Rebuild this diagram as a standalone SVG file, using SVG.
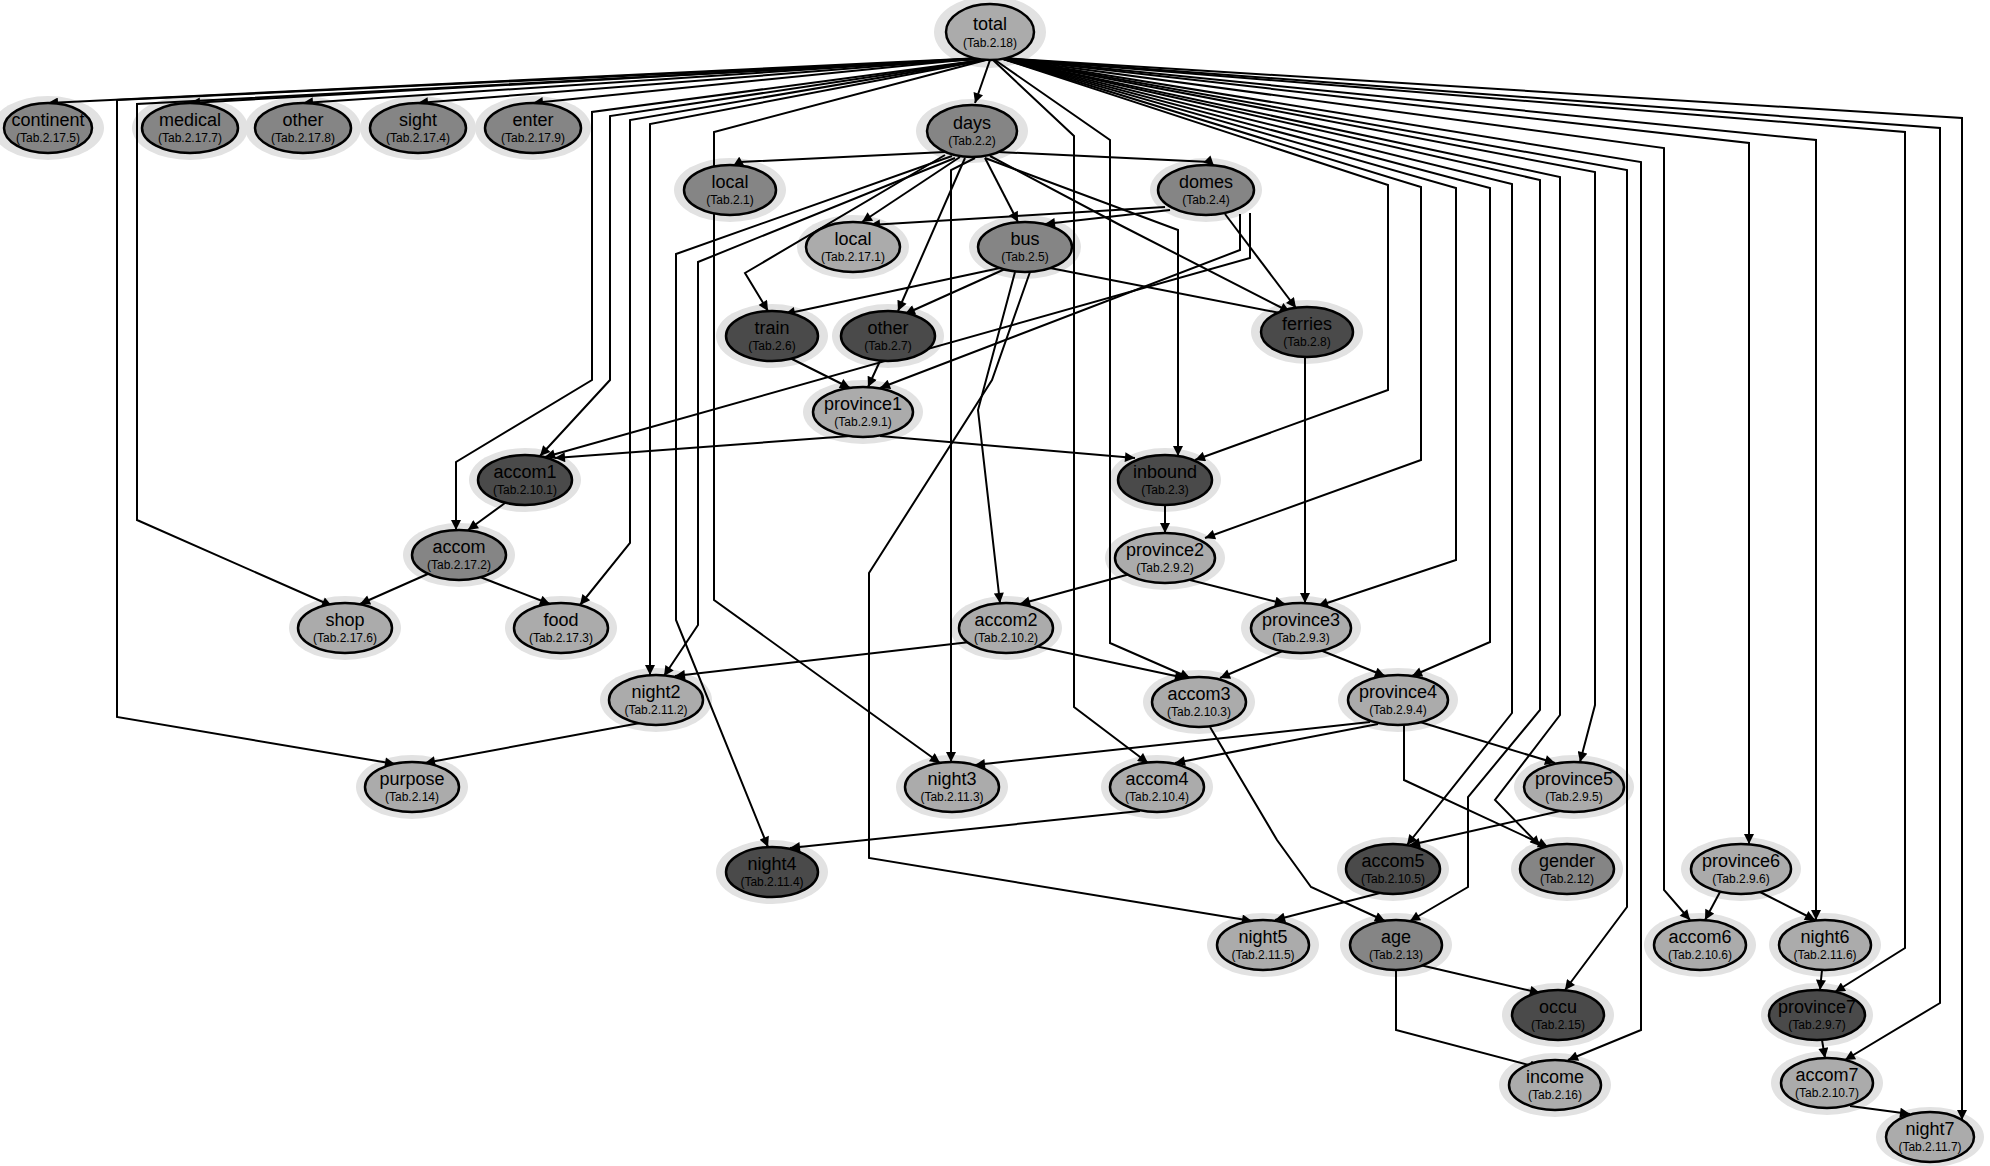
<svg xmlns="http://www.w3.org/2000/svg" width="1990" height="1166" viewBox="0 0 1990 1166">
<defs>
<marker id="ah" viewBox="0 0 10 10" refX="10" refY="5" markerWidth="12" markerHeight="10" orient="auto" markerUnits="userSpaceOnUse"><path d="M0,0 L10,5 L0,10 z" fill="#000"/></marker>
<style>
.e{fill:none;stroke:#000;stroke-width:2;marker-end:url(#ah)}
.halo{fill:#e2e2e2}
.n ellipse{stroke:#000;stroke-width:2.5}
.lt ellipse{fill:#ababab}
.md ellipse{fill:#858585}
.dk ellipse{fill:#4a4a4a}
.t1{font-family:"Liberation Sans",Arial,sans-serif;font-size:18px;text-anchor:middle;fill:#000}
.t2{font-family:"Liberation Sans",Arial,sans-serif;font-size:12px;text-anchor:middle;fill:#000}
</style>
</defs>
<rect width="1990" height="1166" fill="#fff"/>
<g id="halos">
<ellipse class="halo" cx="990" cy="32" rx="56" ry="36"/>
<ellipse class="halo" cx="48" cy="128" rx="56" ry="32"/>
<ellipse class="halo" cx="190" cy="128" rx="58" ry="32"/>
<ellipse class="halo" cx="303" cy="128" rx="58" ry="32"/>
<ellipse class="halo" cx="418" cy="128" rx="58" ry="32"/>
<ellipse class="halo" cx="533" cy="128" rx="58" ry="32"/>
<ellipse class="halo" cx="972" cy="131" rx="56" ry="32"/>
<ellipse class="halo" cx="730" cy="190" rx="56" ry="32"/>
<ellipse class="halo" cx="1206" cy="190" rx="56" ry="32"/>
<ellipse class="halo" cx="853" cy="247" rx="56" ry="32"/>
<ellipse class="halo" cx="1025" cy="247" rx="56" ry="32"/>
<ellipse class="halo" cx="772" cy="336" rx="56" ry="32"/>
<ellipse class="halo" cx="888" cy="336" rx="56" ry="32"/>
<ellipse class="halo" cx="1307" cy="332" rx="56" ry="32"/>
<ellipse class="halo" cx="863" cy="412" rx="60" ry="32"/>
<ellipse class="halo" cx="525" cy="480" rx="56" ry="32"/>
<ellipse class="halo" cx="1165" cy="480" rx="56" ry="32"/>
<ellipse class="halo" cx="459" cy="555" rx="56" ry="32"/>
<ellipse class="halo" cx="1165" cy="558" rx="60" ry="32"/>
<ellipse class="halo" cx="345" cy="628" rx="56" ry="32"/>
<ellipse class="halo" cx="561" cy="628" rx="56" ry="32"/>
<ellipse class="halo" cx="1006" cy="628" rx="56" ry="32"/>
<ellipse class="halo" cx="1301" cy="628" rx="60" ry="32"/>
<ellipse class="halo" cx="656" cy="700" rx="56" ry="32"/>
<ellipse class="halo" cx="1199" cy="702" rx="56" ry="32"/>
<ellipse class="halo" cx="1398" cy="700" rx="60" ry="32"/>
<ellipse class="halo" cx="412" cy="787" rx="56" ry="32"/>
<ellipse class="halo" cx="952" cy="787" rx="56" ry="32"/>
<ellipse class="halo" cx="1157" cy="787" rx="56" ry="32"/>
<ellipse class="halo" cx="1574" cy="787" rx="60" ry="32"/>
<ellipse class="halo" cx="772" cy="872" rx="56" ry="32"/>
<ellipse class="halo" cx="1393" cy="869" rx="56" ry="32"/>
<ellipse class="halo" cx="1567" cy="869" rx="56" ry="32"/>
<ellipse class="halo" cx="1741" cy="869" rx="60" ry="32"/>
<ellipse class="halo" cx="1263" cy="945" rx="56" ry="32"/>
<ellipse class="halo" cx="1396" cy="945" rx="56" ry="32"/>
<ellipse class="halo" cx="1700" cy="945" rx="56" ry="32"/>
<ellipse class="halo" cx="1825" cy="945" rx="56" ry="32"/>
<ellipse class="halo" cx="1558" cy="1015" rx="56" ry="32"/>
<ellipse class="halo" cx="1817" cy="1015" rx="56" ry="32"/>
<ellipse class="halo" cx="1555" cy="1085" rx="56" ry="32"/>
<ellipse class="halo" cx="1827" cy="1083" rx="56" ry="32"/>
<ellipse class="halo" cx="1930" cy="1137" rx="54" ry="30"/>
</g>
<g id="connectors">
<path class="e" d="M982,58 L48,103"/>
<path class="e" d="M982,58 L190,103"/>
<path class="e" d="M982,58 L303,103"/>
<path class="e" d="M982,58 L418,103"/>
<path class="e" d="M982,58 L533,103"/>
<path class="e" d="M982,59 L117,100 L117,717 L395,764"/>
<path class="e" d="M982,59 L137,104 L137,520 L332,606"/>
<path class="e" d="M983,60 L592,112 L592,380 L456,462 L456,530"/>
<path class="e" d="M983,60 L610,116 L610,380 L540,456"/>
<path class="e" d="M984,60 L630,120 L630,543 L580,605"/>
<path class="e" d="M985,60 L650,124 L650,675"/>
<path class="e" d="M986,60 L714,132 L714,600 L940,763"/>
<path class="e" d="M990,60 L975,103"/>
<path class="e" d="M945,152 L740,162 L733,166"/>
<path class="e" d="M998,152 L1210,162 L1214,166"/>
<path class="e" d="M960,157 L862,222"/>
<path class="e" d="M985,158 L1018,222"/>
<path class="e" d="M945,155 L745,273 L768,311"/>
<path class="e" d="M965,158 L898,311"/>
<path class="e" d="M990,156 L1120,225 L1290,312"/>
<path class="e" d="M985,158 L1178,230 L1178,456"/>
<path class="e" d="M955,158 L698,262 L698,625 L664,676"/>
<path class="e" d="M952,156 L676,254 L676,620 L768,847"/>
<path class="e" d="M975,158 L951,170 L951,762"/>
<path class="e" d="M1000,268 L785,314"/>
<path class="e" d="M1005,269 L905,314"/>
<path class="e" d="M1050,268 L1290,315"/>
<path class="e" d="M1015,272 L978,410 L1000,603"/>
<path class="e" d="M1030,272 L992,380 L869,573 L869,858 L1252,921"/>
<path class="e" d="M1165,207 L870,225"/>
<path class="e" d="M1170,210 L1045,224"/>
<path class="e" d="M1225,214 L1296,308"/>
<path class="e" d="M1240,214 L1240,250 L880,388"/>
<path class="e" d="M1250,213 L1250,258 L545,457"/>
<path class="e" d="M790,358 L850,388"/>
<path class="e" d="M880,361 L868,387"/>
<path class="e" d="M850,436 L555,458"/>
<path class="e" d="M880,436 L1135,458"/>
<path class="e" d="M1165,505 L1165,533"/>
<path class="e" d="M1000,58 L1388,185 L1388,390 L1195,460"/>
<path class="e" d="M1000,58 L1421,187 L1421,460 L1205,538"/>
<path class="e" d="M505,503 L468,530"/>
<path class="e" d="M430,573 L360,604"/>
<path class="e" d="M480,577 L550,604"/>
<path class="e" d="M1130,574 L1020,604"/>
<path class="e" d="M1190,580 L1285,604"/>
<path class="e" d="M1305,357 L1305,603"/>
<path class="e" d="M1000,58 L1456,188 L1456,560 L1318,606"/>
<path class="e" d="M1035,646 L1185,678"/>
<path class="e" d="M970,642 L675,676"/>
<path class="e" d="M1285,650 L1220,678"/>
<path class="e" d="M1320,650 L1385,676"/>
<path class="e" d="M995,60 L1110,140 L1110,643 L1190,678"/>
<path class="e" d="M993,60 L1074,136 L1074,707 L1148,763"/>
<path class="e" d="M1000,58 L1490,188 L1490,642 L1412,676"/>
<path class="e" d="M1370,722 L975,765"/>
<path class="e" d="M1378,724 L1175,763"/>
<path class="e" d="M1420,722 L1555,763"/>
<path class="e" d="M1404,725 L1404,780 L1548,847"/>
<path class="e" d="M1000,58 L1512,184 L1512,713 L1407,845"/>
<path class="e" d="M1000,58 L1540,180 L1540,710 L1468,797 L1468,887 L1410,921"/>
<path class="e" d="M1000,58 L1560,177 L1560,715 L1495,800 L1540,846"/>
<path class="e" d="M1000,58 L1595,172 L1595,705 L1580,762"/>
<path class="e" d="M1210,727 L1277,840 L1311,887 L1385,921"/>
<path class="e" d="M1140,811 L790,848"/>
<path class="e" d="M1560,811 L1410,845"/>
<path class="e" d="M1380,893 L1275,920"/>
<path class="e" d="M640,723 L425,763"/>
<path class="e" d="M1000,58 L1627,170 L1627,907 L1565,990"/>
<path class="e" d="M1000,58 L1641,162 L1641,1030 L1568,1060"/>
<path class="e" d="M1000,58 L1664,148 L1664,890 L1690,920"/>
<path class="e" d="M1000,58 L1749,143 L1749,844"/>
<path class="e" d="M1000,58 L1816,140 L1816,920"/>
<path class="e" d="M1000,58 L1905,132 L1905,948 L1835,992"/>
<path class="e" d="M1000,58 L1940,128 L1940,1003 L1845,1060"/>
<path class="e" d="M1000,58 L1962,118 L1962,1120"/>
<path class="e" d="M1720,892 L1705,920"/>
<path class="e" d="M1760,892 L1815,920"/>
<path class="e" d="M1822,970 L1820,990"/>
<path class="e" d="M1822,1040 L1825,1058"/>
<path class="e" d="M1850,1106 L1910,1114"/>
<path class="e" d="M1420,965 L1540,993"/>
<path class="e" d="M1396,970 L1396,1030 L1540,1068"/>
</g>
<g id="nodes">
<g id="n-total" class="n lt"><ellipse cx="990" cy="32" rx="44" ry="28"/><text class="t1" x="990" y="30">total</text><text class="t2" x="990" y="47">(Tab.2.18)</text></g>
<g id="n-continent" class="n md"><ellipse cx="48" cy="128" rx="44" ry="25"/><text class="t1" x="48" y="126">continent</text><text class="t2" x="48" y="142">(Tab.2.17.5)</text></g>
<g id="n-medical" class="n md"><ellipse cx="190" cy="128" rx="48" ry="25"/><text class="t1" x="190" y="126">medical</text><text class="t2" x="190" y="142">(Tab.2.17.7)</text></g>
<g id="n-other" class="n md"><ellipse cx="303" cy="128" rx="48" ry="25"/><text class="t1" x="303" y="126">other</text><text class="t2" x="303" y="142">(Tab.2.17.8)</text></g>
<g id="n-sight" class="n md"><ellipse cx="418" cy="128" rx="48" ry="25"/><text class="t1" x="418" y="126">sight</text><text class="t2" x="418" y="142">(Tab.2.17.4)</text></g>
<g id="n-enter" class="n md"><ellipse cx="533" cy="128" rx="48" ry="25"/><text class="t1" x="533" y="126">enter</text><text class="t2" x="533" y="142">(Tab.2.17.9)</text></g>
<g id="n-days" class="n md"><ellipse cx="972" cy="131" rx="45" ry="26"/><text class="t1" x="972" y="129">days</text><text class="t2" x="972" y="145">(Tab.2.2)</text></g>
<g id="n-local1" class="n md"><ellipse cx="730" cy="190" rx="46" ry="25"/><text class="t1" x="730" y="188">local</text><text class="t2" x="730" y="204">(Tab.2.1)</text></g>
<g id="n-domes" class="n md"><ellipse cx="1206" cy="190" rx="48" ry="25"/><text class="t1" x="1206" y="188">domes</text><text class="t2" x="1206" y="204">(Tab.2.4)</text></g>
<g id="n-local2" class="n lt"><ellipse cx="853" cy="247" rx="47" ry="25"/><text class="t1" x="853" y="245">local</text><text class="t2" x="853" y="261">(Tab.2.17.1)</text></g>
<g id="n-bus" class="n md"><ellipse cx="1025" cy="247" rx="47" ry="25"/><text class="t1" x="1025" y="245">bus</text><text class="t2" x="1025" y="261">(Tab.2.5)</text></g>
<g id="n-train" class="n dk"><ellipse cx="772" cy="336" rx="46" ry="25"/><text class="t1" x="772" y="334">train</text><text class="t2" x="772" y="350">(Tab.2.6)</text></g>
<g id="n-other2" class="n dk"><ellipse cx="888" cy="336" rx="47" ry="25"/><text class="t1" x="888" y="334">other</text><text class="t2" x="888" y="350">(Tab.2.7)</text></g>
<g id="n-ferries" class="n dk"><ellipse cx="1307" cy="332" rx="46" ry="25"/><text class="t1" x="1307" y="330">ferries</text><text class="t2" x="1307" y="346">(Tab.2.8)</text></g>
<g id="n-province1" class="n lt"><ellipse cx="863" cy="412" rx="50" ry="25"/><text class="t1" x="863" y="410">province1</text><text class="t2" x="863" y="426">(Tab.2.9.1)</text></g>
<g id="n-accom1" class="n dk"><ellipse cx="525" cy="480" rx="47" ry="25"/><text class="t1" x="525" y="478">accom1</text><text class="t2" x="525" y="494">(Tab.2.10.1)</text></g>
<g id="n-inbound" class="n dk"><ellipse cx="1165" cy="480" rx="47" ry="25"/><text class="t1" x="1165" y="478">inbound</text><text class="t2" x="1165" y="494">(Tab.2.3)</text></g>
<g id="n-accom" class="n md"><ellipse cx="459" cy="555" rx="47" ry="25"/><text class="t1" x="459" y="553">accom</text><text class="t2" x="459" y="569">(Tab.2.17.2)</text></g>
<g id="n-province2" class="n lt"><ellipse cx="1165" cy="558" rx="50" ry="25"/><text class="t1" x="1165" y="556">province2</text><text class="t2" x="1165" y="572">(Tab.2.9.2)</text></g>
<g id="n-shop" class="n lt"><ellipse cx="345" cy="628" rx="47" ry="25"/><text class="t1" x="345" y="626">shop</text><text class="t2" x="345" y="642">(Tab.2.17.6)</text></g>
<g id="n-food" class="n lt"><ellipse cx="561" cy="628" rx="47" ry="25"/><text class="t1" x="561" y="626">food</text><text class="t2" x="561" y="642">(Tab.2.17.3)</text></g>
<g id="n-accom2" class="n lt"><ellipse cx="1006" cy="628" rx="47" ry="25"/><text class="t1" x="1006" y="626">accom2</text><text class="t2" x="1006" y="642">(Tab.2.10.2)</text></g>
<g id="n-province3" class="n lt"><ellipse cx="1301" cy="628" rx="50" ry="25"/><text class="t1" x="1301" y="626">province3</text><text class="t2" x="1301" y="642">(Tab.2.9.3)</text></g>
<g id="n-night2" class="n lt"><ellipse cx="656" cy="700" rx="47" ry="25"/><text class="t1" x="656" y="698">night2</text><text class="t2" x="656" y="714">(Tab.2.11.2)</text></g>
<g id="n-accom3" class="n lt"><ellipse cx="1199" cy="702" rx="47" ry="25"/><text class="t1" x="1199" y="700">accom3</text><text class="t2" x="1199" y="716">(Tab.2.10.3)</text></g>
<g id="n-province4" class="n lt"><ellipse cx="1398" cy="700" rx="50" ry="25"/><text class="t1" x="1398" y="698">province4</text><text class="t2" x="1398" y="714">(Tab.2.9.4)</text></g>
<g id="n-purpose" class="n lt"><ellipse cx="412" cy="787" rx="47" ry="25"/><text class="t1" x="412" y="785">purpose</text><text class="t2" x="412" y="801">(Tab.2.14)</text></g>
<g id="n-night3" class="n lt"><ellipse cx="952" cy="787" rx="47" ry="25"/><text class="t1" x="952" y="785">night3</text><text class="t2" x="952" y="801">(Tab.2.11.3)</text></g>
<g id="n-accom4" class="n lt"><ellipse cx="1157" cy="787" rx="47" ry="25"/><text class="t1" x="1157" y="785">accom4</text><text class="t2" x="1157" y="801">(Tab.2.10.4)</text></g>
<g id="n-province5" class="n lt"><ellipse cx="1574" cy="787" rx="50" ry="25"/><text class="t1" x="1574" y="785">province5</text><text class="t2" x="1574" y="801">(Tab.2.9.5)</text></g>
<g id="n-night4" class="n dk"><ellipse cx="772" cy="872" rx="46" ry="25"/><text class="t1" x="772" y="870">night4</text><text class="t2" x="772" y="886">(Tab.2.11.4)</text></g>
<g id="n-accom5" class="n dk"><ellipse cx="1393" cy="869" rx="47" ry="25"/><text class="t1" x="1393" y="867">accom5</text><text class="t2" x="1393" y="883">(Tab.2.10.5)</text></g>
<g id="n-gender" class="n md"><ellipse cx="1567" cy="869" rx="47" ry="25"/><text class="t1" x="1567" y="867">gender</text><text class="t2" x="1567" y="883">(Tab.2.12)</text></g>
<g id="n-province6" class="n lt"><ellipse cx="1741" cy="869" rx="50" ry="25"/><text class="t1" x="1741" y="867">province6</text><text class="t2" x="1741" y="883">(Tab.2.9.6)</text></g>
<g id="n-night5" class="n lt"><ellipse cx="1263" cy="945" rx="46" ry="25"/><text class="t1" x="1263" y="943">night5</text><text class="t2" x="1263" y="959">(Tab.2.11.5)</text></g>
<g id="n-age" class="n md"><ellipse cx="1396" cy="945" rx="46" ry="25"/><text class="t1" x="1396" y="943">age</text><text class="t2" x="1396" y="959">(Tab.2.13)</text></g>
<g id="n-accom6" class="n lt"><ellipse cx="1700" cy="945" rx="46" ry="25"/><text class="t1" x="1700" y="943">accom6</text><text class="t2" x="1700" y="959">(Tab.2.10.6)</text></g>
<g id="n-night6" class="n lt"><ellipse cx="1825" cy="945" rx="46" ry="25"/><text class="t1" x="1825" y="943">night6</text><text class="t2" x="1825" y="959">(Tab.2.11.6)</text></g>
<g id="n-occu" class="n dk"><ellipse cx="1558" cy="1015" rx="46" ry="25"/><text class="t1" x="1558" y="1013">occu</text><text class="t2" x="1558" y="1029">(Tab.2.15)</text></g>
<g id="n-province7" class="n dk"><ellipse cx="1817" cy="1015" rx="48" ry="25"/><text class="t1" x="1817" y="1013">province7</text><text class="t2" x="1817" y="1029">(Tab.2.9.7)</text></g>
<g id="n-income" class="n lt"><ellipse cx="1555" cy="1085" rx="46" ry="25"/><text class="t1" x="1555" y="1083">income</text><text class="t2" x="1555" y="1099">(Tab.2.16)</text></g>
<g id="n-accom7" class="n lt"><ellipse cx="1827" cy="1083" rx="46" ry="25"/><text class="t1" x="1827" y="1081">accom7</text><text class="t2" x="1827" y="1097">(Tab.2.10.7)</text></g>
<g id="n-night7" class="n lt"><ellipse cx="1930" cy="1137" rx="44" ry="25"/><text class="t1" x="1930" y="1135">night7</text><text class="t2" x="1930" y="1151">(Tab.2.11.7)</text></g>
</g>
</svg>
